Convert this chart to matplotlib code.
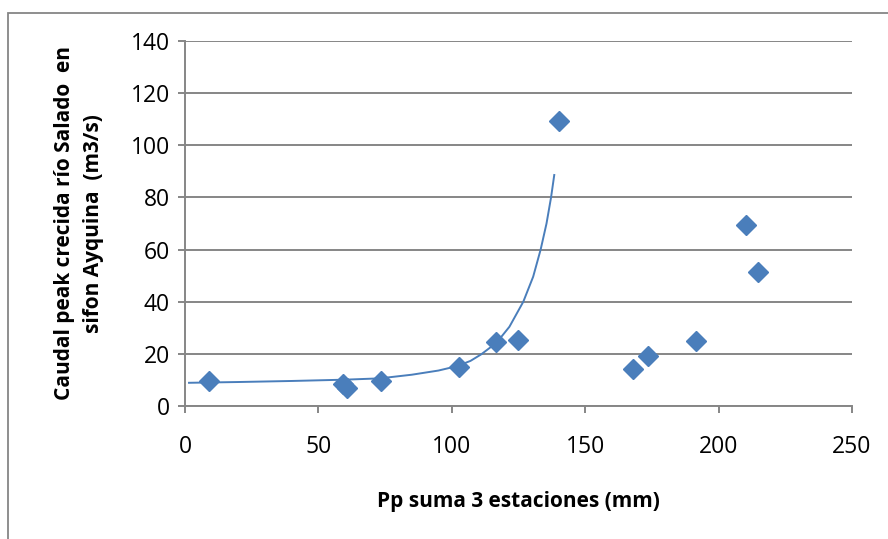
import numpy as np
import matplotlib
matplotlib.use("Agg")
import matplotlib.pyplot as plt
from matplotlib.patches import Rectangle

# precipitation (mm) vs peak flow (m3/s)
pp_mm = [9.0, 59.2, 60.7, 73.5, 102.7, 116.6, 124.8, 140.2, 167.9, 173.5, 191.5, 210.3, 214.8]
caudal = [9.6, 8.4, 6.9, 9.6, 15.0, 24.5, 25.3, 109.3, 14.2, 19.2, 24.9, 69.4, 51.4]

# trend curve, read along its length
trend_x = [1.5, 20, 40, 60, 73, 85, 95, 102, 107, 111, 116.8, 121.6, 126.8, 130.5, 133.3, 135.5, 137.2, 138.4]
trend_y = [8.9, 9.2, 9.6, 10.1, 10.6, 12.0, 13.6, 15.3, 17.3, 19.8, 24.3, 30.4, 40.0, 49.6, 60.0, 70.0, 80.0, 88.6]

xticks = [0, 50, 100, 150, 200, 250]
yticks = [0, 20, 40, 60, 80, 100, 120, 140]

blue = "#4a7ebb"
gray = "#868686"
plt.rcParams['font.family'] = ['Open Sans', 'DejaVu Sans']

fig = plt.figure(figsize=(8.88, 5.39), dpi=100)
ax = fig.add_axes([185/888, 1-406/539, (852-185)/888, (406-41)/539])

# chart border
fig.patches.append(Rectangle((8/888, -0.1), 1.2, 1.1 - 13/539, transform=fig.transFigure,
                             fill=False, edgecolor=gray, linewidth=1.3))

ax.plot(trend_x, trend_y, color=blue, linewidth=1.4, zorder=3, solid_joinstyle='round')
ax.plot(pp_mm, caudal, linestyle='none', marker='D', markersize=10,
        color=blue, markeredgecolor=blue, zorder=4, clip_on=False)

ax.set_xlim(0, 250)
ax.set_ylim(0, 140)
ax.set_xticks(xticks)
ax.set_yticks(yticks)
ax.yaxis.grid(True, color=gray, linewidth=1.4)
ax.set_axisbelow(True)
for s in ['top', 'right']:
    ax.spines[s].set_visible(False)
for s in ['left', 'bottom']:
    ax.spines[s].set_color(gray)
    ax.spines[s].set_linewidth(1.4)
ax.tick_params(axis='both', colors=gray, length=5, width=1.4, labelsize=16.5, labelcolor='black')
ax.tick_params(axis='x', pad=16)
ax.tick_params(axis='y', pad=6)

ax.set_xlabel("Pp suma 3 estaciones (mm)", fontsize=15, fontweight='bold', labelpad=23)
ax.set_ylabel("Caudal peak crecida río Salado  en\nsifon Ayquina  (m3/s)", fontsize=15,
              fontweight='bold', labelpad=19, linespacing=1.5)

fig.savefig("out.png", dpi=100)
